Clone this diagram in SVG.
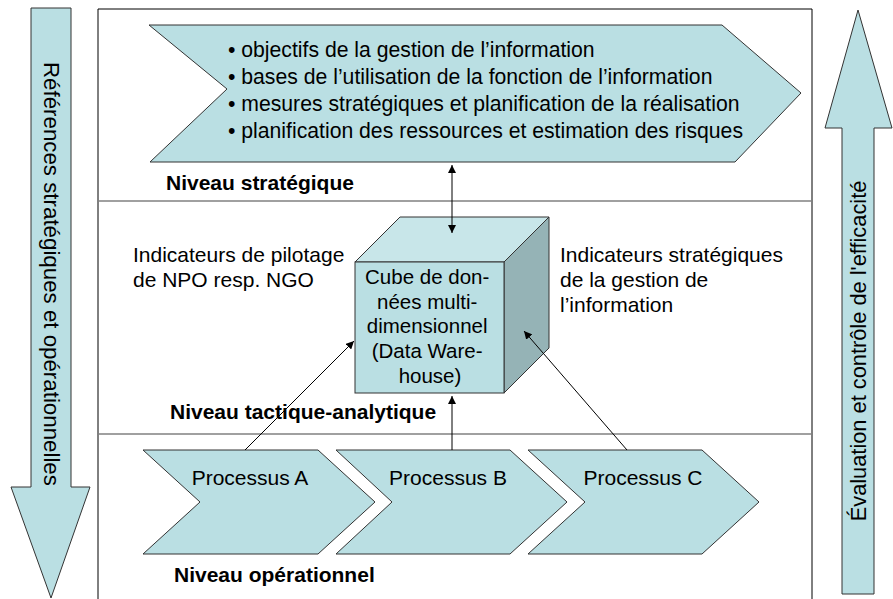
<svg xmlns="http://www.w3.org/2000/svg" width="893" height="599" viewBox="0 0 893 599">
  <defs>
    <marker id="ah" viewBox="0 0 10 10" refX="10" refY="5" markerWidth="8" markerHeight="8" markerUnits="userSpaceOnUse" orient="auto-start-reverse">
      <path d="M0,0 L10,5 L0,10 z" fill="#000"/>
    </marker>
    <style>
      .shape { fill: #badfe3; stroke: #333; stroke-width: 1; }
      .txt { font-family: "Liberation Sans", Arial, sans-serif; fill: #000; }
      .lvl { font-family: "Liberation Sans", Arial, sans-serif; font-weight: bold; font-size: 21px; fill: #000; }
      .conn { stroke: #000; stroke-width: 1; fill: none; }
    </style>
  </defs>

  <rect width="893" height="599" fill="#fff"/>

  <!-- frame and level dividers -->
  <g id="frame">
    <path d="M98,600 V9 H812 V600" fill="none" stroke="#000" stroke-width="1"/>
    <line x1="98" y1="201" x2="812" y2="201" stroke="#808080" stroke-width="1.5"/>
    <line x1="98" y1="434" x2="812" y2="434" stroke="#808080" stroke-width="1.5"/>
  </g>

  <!-- left downward arrow -->
  <g id="arrow-references">
    <path class="shape" d="M31,8 H71 V487 H90 L51,598 L11,487 H31 Z"/>
    <text class="txt" font-size="22.3" transform="translate(44,62) rotate(90)">Références stratégiques et opérationnelles</text>
  </g>

  <!-- right upward arrow -->
  <g id="arrow-evaluation">
    <path class="shape" d="M842,594 V128 H825 L858,10 L892,128 H874 V594 Z"/>
    <text class="txt" font-size="21.8" text-anchor="middle" transform="translate(866,351) rotate(-90)">Évaluation et contrôle de l'efficacité</text>
  </g>

  <!-- strategic level -->
  <g id="strategie">
    <path class="shape" d="M149,25 H722 L801,93 L735,162 H150 L227,89 Z"/>
    <text class="txt" font-size="21.2">
      <tspan x="228" y="57">• objectifs de la gestion de l’information</tspan>
      <tspan x="228" y="84">• bases de l’utilisation de la fonction de l’information</tspan>
      <tspan x="228" y="111">• mesures stratégiques et planification de la réalisation</tspan>
      <tspan x="228" y="138">• planification des ressources et estimation des risques</tspan>
    </text>
  </g>
  <g id="label-strategique"><text class="lvl" x="166" y="190">Niveau stratégique</text></g>

  <!-- tactical-analytical level -->
  <g id="indicateurs-pilotage">
    <text class="txt" font-size="21"><tspan x="133" y="262">Indicateurs de pilotage</tspan><tspan x="133" y="287">de NPO resp. NGO</tspan></text>
  </g>
  <g id="indicateurs-strategiques">
    <text class="txt" font-size="21"><tspan x="560" y="262">Indicateurs stratégiques</tspan><tspan x="560" y="287">de la gestion de</tspan><tspan x="560" y="312">l’information</tspan></text>
  </g>
  <g id="cube">
    <path d="M355,262 L400,217 H549 L504,262 Z" fill="#c8e6e9" stroke="#333"/>
    <path d="M504,262 L549,217 V348 L504,393 Z" fill="#95b3b6" stroke="#333"/>
    <rect x="355" y="262" width="149" height="131" fill="#badfe3" stroke="#333"/>
    <text class="txt" font-size="20.5" text-anchor="middle">
      <tspan x="430" y="284">Cube de don-</tspan>
      <tspan x="430" y="309">nées multi-</tspan>
      <tspan x="430" y="333">dimensionnel</tspan>
      <tspan x="430" y="358">(Data Ware-</tspan>
      <tspan x="430" y="383">house)</tspan>
    </text>
  </g>
  <g id="label-tactique"><text class="lvl" x="170" y="419">Niveau tactique-analytique</text></g>

  <!-- operational level -->
  <g id="processus-a">
    <path class="shape" d="M143,450 H318 L375,502 L318,554 H143 L200,502 Z"/>
    <text class="txt" font-size="21" x="250" y="485" text-anchor="middle">Processus A</text>
  </g>
  <g id="processus-b">
    <path class="shape" d="M336,450 H510 L567,502 L510,554 H336 L392,502 Z"/>
    <text class="txt" font-size="21" x="448" y="485" text-anchor="middle">Processus B</text>
  </g>
  <g id="processus-c">
    <path class="shape" d="M528,450 H702 L759,502 L702,554 H528 L585,502 Z"/>
    <text class="txt" font-size="21" x="643" y="485" text-anchor="middle">Processus C</text>
  </g>
  <g id="label-operationnel"><text class="lvl" x="174" y="582">Niveau opérationnel</text></g>

  <!-- connectors -->
  <g id="connectors">
    <line class="conn" x1="452" y1="165" x2="452" y2="233" marker-start="url(#ah)" marker-end="url(#ah)"/>
    <line class="conn" x1="452" y1="450" x2="452" y2="396" marker-end="url(#ah)"/>
    <line class="conn" x1="245" y1="450" x2="354" y2="341" marker-end="url(#ah)"/>
    <line class="conn" x1="627" y1="450" x2="524" y2="331" marker-end="url(#ah)"/>
  </g>
</svg>
